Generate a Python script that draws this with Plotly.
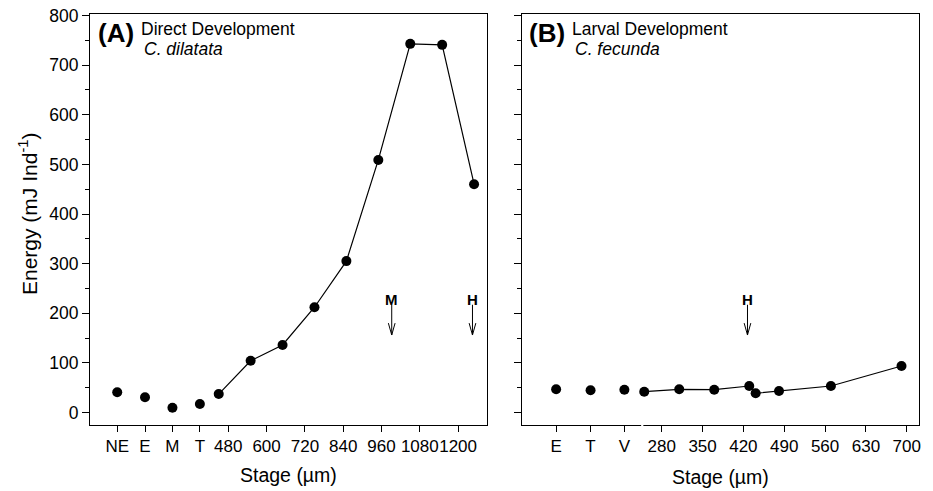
import plotly.graph_objects as go

# ---------------- data ----------------
# Panel A: Direct development, C. dilatata
a_cat_labels = ["NE", "E", "M", "T"]
a_cat_pos = [132, 219, 305, 391]          # axis positions of categorical stages
a_cat_energy = [40.5, 30.4, 9.5, 16.9]
a_size = [450, 550, 650, 750, 850, 950, 1050, 1150, 1250]
a_energy = [37, 104, 136, 212, 305, 509, 743, 741, 460]
a_num_ticks = [480, 600, 720, 840, 960, 1080, 1200]
a_arrow_x = [992, 1245]
a_arrow_lbl = ["M", "H"]

# Panel B: Larval development, C. fecunda
b_cat_labels = ["E", "T", "V"]
b_cat_pos = [99, 158, 216]
b_cat_energy = [46.6, 44.6, 45.8]
b_size = [250, 310, 370, 430, 441, 481, 570, 691]
b_energy = [41.7, 46.6, 45.8, 53.2, 38.5, 43.1, 53.2, 93.5]
b_num_ticks = [280, 350, 420, 490, 560, 630, 700]
b_arrow_x = [427]
b_arrow_lbl = ["H"]

y_ticks = [0, 100, 200, 300, 400, 500, 600, 700, 800]

FONT = "Liberation Sans, Arial, sans-serif"
W, H = 933, 491

# layout geometry
ydom = [1 - 425 / H, 1 - 14.3 / H]
xdomA = [90 / W, 487 / W]
xdomB = [522.3 / W, 919 / W]
yrange = [-25.4, 802.6]
xrangeA = [46.7, 1290.5]
xrangeB = [41, 721]

mk = dict(color="black", size=10)
ln = dict(color="black", width=1.2)

fig = go.Figure()
fig.add_trace(go.Scatter(x=a_cat_pos, y=a_cat_energy, mode="markers", marker=mk,
                         xaxis="x", yaxis="y", showlegend=False))
fig.add_trace(go.Scatter(x=a_size, y=a_energy, mode="lines+markers", marker=mk, line=ln,
                         xaxis="x", yaxis="y", showlegend=False))
fig.add_trace(go.Scatter(x=b_cat_pos, y=b_cat_energy, mode="markers", marker=mk,
                         xaxis="x2", yaxis="y2", showlegend=False))
fig.add_trace(go.Scatter(x=b_size, y=b_energy, mode="lines+markers", marker=mk, line=ln,
                         xaxis="x2", yaxis="y2", showlegend=False))

XTICKFONT = dict(family=FONT, size=17, color="black")
YTICKFONT = dict(family=FONT, size=17.5, color="black")
common_x = dict(showline=True, linecolor="black", linewidth=1, mirror=True,
                ticks="outside", ticklen=6, tickcolor="black", tickwidth=1, tickangle=0,
                showgrid=False, zeroline=False, automargin=False, tickfont=XTICKFONT)
common_y = dict(showline=True, linecolor="black", linewidth=1, mirror=True,
                ticks="outside", ticklen=7, tickcolor="black", tickwidth=1,
                showgrid=False, zeroline=False, automargin=False,
                range=yrange, tickvals=y_ticks,
                minor=dict(ticks="outside", ticklen=4, dtick=50, tickcolor="black", showgrid=False),
                tickfont=YTICKFONT)

fig.update_layout(
    width=W, height=H,
    margin=dict(l=0, r=0, t=0, b=0),
    paper_bgcolor="white", plot_bgcolor="white",
    font=dict(family=FONT, color="black"),
    xaxis=dict(domain=xdomA, range=xrangeA, anchor="y",
               tickvals=a_cat_pos + a_num_ticks,
               ticktext=a_cat_labels + [str(v) for v in a_num_ticks], **common_x),
    yaxis=dict(domain=ydom, anchor="x", **common_y),
    xaxis2=dict(domain=xdomB, range=xrangeB, anchor="y2",
                tickvals=b_cat_pos + b_num_ticks,
                ticktext=b_cat_labels + [str(v) for v in b_num_ticks], **common_x),
    yaxis2=dict(domain=ydom, anchor="x2", showticklabels=False, **common_y),
)

ann = []
# axis titles
ann.append(dict(text="Stage (µm)", x=(xdomA[0] + xdomA[1]) / 2, y=1 - 475 / H, xref="paper", yref="paper",
                showarrow=False, font=dict(size=19.5, family=FONT), xanchor="center", yanchor="middle"))
ann.append(dict(text="Stage (µm)", x=(xdomB[0] + xdomB[1]) / 2, y=1 - 477 / H, xref="paper", yref="paper",
                showarrow=False, font=dict(size=19.5, family=FONT), xanchor="center", yanchor="middle"))
ann.append(dict(text="Energy (mJ Ind<sup>-1</sup>)", x=28 / W, y=1 - 214 / H, xref="paper", yref="paper",
                textangle=-90, showarrow=False, font=dict(size=21, family=FONT),
                xanchor="center", yanchor="middle"))
# panel labels
for xl, lab, title, sp in [(96 / W, "(A)", "Direct Development", "C. dilatata"),
                           (527 / W, "(B)", "Larval Development", "C. fecunda")]:
    ann.append(dict(text="<b>" + lab + "</b>", x=xl, y=1 - 33 / H, xref="paper", yref="paper",
                    showarrow=False, font=dict(size=26, family=FONT), xanchor="left", yanchor="middle"))
    ann.append(dict(text=title, x=xl + 44 / W, y=1 - 29 / H, xref="paper", yref="paper",
                    showarrow=False, font=dict(size=17.5, family=FONT), xanchor="left", yanchor="middle",
                    borderpad=0))
    ann.append(dict(text="<i>" + sp + "</i>", x=xl + 47 / W, y=1 - 49 / H, xref="paper", yref="paper",
                    showarrow=False, font=dict(size=17.5, family=FONT), xanchor="left", yanchor="middle",
                    borderpad=0))

shapes = []
arrow_top, arrow_tip, head_h, lbl_y = 217, 156, 24, 228
for xs, lbls, xr, yr, hw in [(a_arrow_x, a_arrow_lbl, "x", "y", 10.5),
                             (b_arrow_x, b_arrow_lbl, "x2", "y2", 5.7)]:
    for xv, lb in zip(xs, lbls):
        ann.append(dict(text="<b>" + lb + "</b>", x=xv, y=lbl_y, xref=xr, yref=yr, showarrow=False,
                        font=dict(size=15, family=FONT), xanchor="center", yanchor="middle"))
        shapes.append(dict(type="line", xref=xr, yref=yr, x0=xv, x1=xv, y0=arrow_top, y1=arrow_tip,
                           line=dict(color="black", width=1)))
        shapes.append(dict(type="path", xref=xr, yref=yr,
                           path=f"M {xv - hw},{arrow_tip + head_h} L {xv},{arrow_tip} L {xv + hw},{arrow_tip + head_h}",
                           line=dict(color="black", width=1)))

# axis break in panel B (gap in bottom axis line)
shapes.append(dict(type="rect", xref="x2", yref="paper", x0=244.7, x1=248.5,
                   y0=ydom[0] - 0.006, y1=ydom[0] + 0.006, fillcolor="white",
                   line=dict(width=0), layer="above"))

fig.update_layout(annotations=ann, shapes=shapes)
fig.write_html("out.html")
